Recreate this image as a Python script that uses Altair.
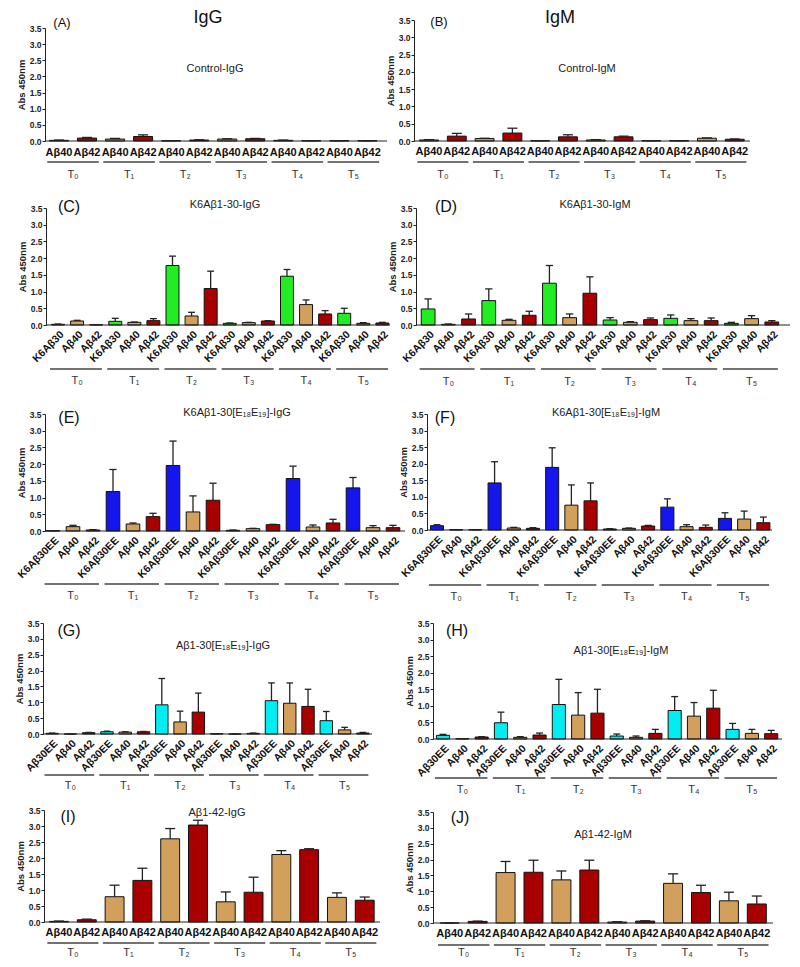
import altair as alt
import pandas as pd

FONT = "Liberation Sans"

times = ["T₀", "T₁", "T₂", "T₃", "T₄", "T₅"]

# ---- series names -------------------------------------------------------
s_ab = ["Aβ40", "Aβ42"]
s_k6 = ["K6Aβ30", "Aβ40", "Aβ42"]
s_k6ee = ["K6Aβ30EE", "Aβ40", "Aβ42"]
s_abee = ["Aβ30EE", "Aβ40", "Aβ42"]

all_series = ["K6Aβ30", "K6Aβ30EE", "Aβ30EE", "Aβ40", "Aβ42"]
all_colors = ["#22EC22", "#1515EE", "#00EEF2", "#D2A05C", "#A80000"]

# ---- values (mean, error) read per time point -----------------------------
a_mean = [0.02, 0.09, 0.06, 0.14, 0.01, 0.03, 0.06, 0.07, 0.02, 0.01, 0.01, 0.01]
a_err = [0.01, 0.02, 0.02, 0.05, 0.00, 0.01, 0.01, 0.01, 0.01, 0.00, 0.00, 0.00]

b_mean = [0.03, 0.14, 0.07, 0.23, 0.01, 0.12, 0.03, 0.12, 0.01, 0.01, 0.08, 0.05]
b_err = [0.01, 0.08, 0.01, 0.14, 0.00, 0.06, 0.01, 0.02, 0.00, 0.00, 0.01, 0.01]

c_mean = [0.02, 0.12, 0.01, 0.11, 0.08, 0.13, 1.78, 0.27, 1.09,
          0.05, 0.07, 0.12, 1.46, 0.61, 0.33, 0.35, 0.05, 0.06]
c_err = [0.01, 0.02, 0.00, 0.09, 0.01, 0.06, 0.28, 0.11, 0.52,
         0.01, 0.01, 0.01, 0.20, 0.14, 0.10, 0.15, 0.02, 0.02]

d_mean = [0.48, 0.02, 0.18, 0.73, 0.14, 0.29, 1.25, 0.22, 0.95,
          0.15, 0.08, 0.16, 0.20, 0.13, 0.13, 0.05, 0.19, 0.09]
d_err = [0.30, 0.01, 0.15, 0.35, 0.03, 0.12, 0.53, 0.11, 0.49,
         0.07, 0.02, 0.05, 0.10, 0.06, 0.08, 0.03, 0.09, 0.04]

e_mean = [0.01, 0.13, 0.03, 1.18, 0.21, 0.43, 1.96, 0.57, 0.92,
          0.02, 0.07, 0.19, 1.57, 0.12, 0.24, 1.29, 0.10, 0.10]
e_err = [0.00, 0.04, 0.01, 0.66, 0.03, 0.10, 0.73, 0.48, 0.51,
         0.01, 0.01, 0.01, 0.37, 0.06, 0.11, 0.31, 0.06, 0.07]

f_mean = [0.13, 0.01, 0.01, 1.42, 0.06, 0.05, 1.89, 0.75, 0.88,
          0.03, 0.05, 0.12, 0.69, 0.10, 0.08, 0.35, 0.33, 0.22]
f_err = [0.03, 0.00, 0.00, 0.64, 0.02, 0.02, 0.59, 0.61, 0.54,
         0.01, 0.01, 0.02, 0.25, 0.06, 0.07, 0.17, 0.24, 0.17]

g_mean = [0.02, 0.00, 0.04, 0.07, 0.06, 0.07, 0.92, 0.38, 0.69,
          0.01, 0.00, 0.02, 1.05, 0.97, 0.87, 0.42, 0.13, 0.03]
g_err = [0.01, 0.00, 0.01, 0.02, 0.01, 0.01, 0.83, 0.34, 0.60,
         0.00, 0.00, 0.01, 0.56, 0.64, 0.54, 0.29, 0.08, 0.02]

h_mean = [0.11, 0.01, 0.06, 0.49, 0.05, 0.12, 1.04, 0.72, 0.78,
          0.09, 0.05, 0.17, 0.86, 0.69, 0.93, 0.29, 0.17, 0.16]
h_err = [0.03, 0.00, 0.01, 0.32, 0.02, 0.06, 0.76, 0.68, 0.72,
         0.06, 0.04, 0.12, 0.42, 0.41, 0.54, 0.18, 0.12, 0.10]

i_mean = [0.02, 0.07, 0.79, 1.30, 2.60, 3.03, 0.63, 0.93, 2.11, 2.26, 0.77, 0.68]
i_err = [0.01, 0.02, 0.36, 0.38, 0.32, 0.15, 0.31, 0.47, 0.12, 0.03, 0.14, 0.10]

j_mean = [0.00, 0.05, 1.59, 1.60, 1.36, 1.67, 0.03, 0.06, 1.25, 0.96, 0.70, 0.60]
j_err = [0.00, 0.01, 0.35, 0.38, 0.28, 0.31, 0.01, 0.01, 0.30, 0.23, 0.27, 0.25]

# ---- layout (page pixel geometry) ---------------------------------------
COL_X = [8, 408]
COL_W = [400, 384]
ROW_Y = [8, 190, 395, 603, 800]
ROW_H = [182, 205, 208, 197, 160]

GEOM = {
    "A": dict(r=0, c=0, x=(45, 387), y=(28, 141), dom=(-0.5, 11.7), lab=153, line=162, tl=175,
              letter=("(A)", 62, 23, 13), sub=("Control-IgG", 215, 69), ytitle="Abs 450nm"),
    "B": dict(r=0, c=1, x=(414, 750), y=(20, 141), dom=(-0.54, 11.55), lab=152, line=162, tl=175,
              letter=("(B)", 439, 22, 13), sub=("Control-IgM", 587, 69), ytitle="Abs 450nm"),
    "C": dict(r=1, c=0, x=(46, 390), y=(208, 325), dom=(-0.63, 17.4), lab=333, line=369, tl=381,
              letter=("(C)", 69, 207, 16), sub=("K6Aβ1-30-IgG", 225, 205), ytitle="Abs  450nm"),
    "D": dict(r=1, c=1, x=(416, 790), y=(208, 325), dom=(-0.6, 17.9), lab=333, line=369, tl=382,
              letter=("(D)", 446, 207, 16), sub=("K6Aβ1-30-IgM", 595, 205), ytitle="Abs  450nm"),
    "E": dict(r=2, c=0, x=(45, 405), y=(414, 531), dom=(-0.4, 17.6), lab=539, line=584, tl=596,
              letter=("(E)", 69, 418, 16), sub=("K6Aβ1-30[E₁₈E₁₉]-IgG", 237, 413), ytitle="Abs  450nm"),
    "F": dict(r=2, c=1, x=(427, 772), y=(414, 530), dom=(-0.52, 17.45), lab=538, line=585, tl=597,
              letter=("(F)", 445, 418, 16), sub=("K6Aβ1-30[E₁₈E₁₉]-IgM", 606, 413), ytitle="Abs  450nm"),
    "G": dict(r=3, c=0, x=(43, 372), y=(623, 734), dom=(-0.5, 17.5), lab=742, line=775, tl=786,
              letter=("(G)", 69, 631, 16), sub=("Aβ1-30[E₁₈E₁₉]-IgG", 223, 646), ytitle="Abs  450nm"),
    "H": dict(r=3, c=1, x=(433, 782), y=(623, 739), dom=(-0.52, 17.56), lab=747, line=778, tl=790,
              letter=("(H)", 457, 631, 16), sub=("Aβ1-30[E₁₈E₁₉]-IgM", 621, 651), ytitle="Abs 450nm"),
    "I": dict(r=4, c=0, x=(44, 380), y=(810, 922), dom=(-0.54, 11.55), lab=933, line=943, tl=953,
              letter=("(I)", 68, 817, 16), sub=("Aβ1-42-IgG", 217, 813), ytitle="Abs  450nm"),
    "J": dict(r=4, c=1, x=(433, 773), y=(812, 923), dom=(-0.6, 11.58), lab=934, line=945, tl=953,
              letter=("(J)", 460, 818, 16), sub=("Aβ1-42-IgM", 603, 835), ytitle="Abs  450nm"),
}

COLOR = alt.Color("series:N", scale=alt.Scale(domain=all_series, range=all_colors), legend=None)


def panel(key, series, means, errs):
    g = GEOM[key]
    cx, cy = COL_X[g["c"]], ROW_Y[g["r"]]
    cw, ch = COL_W[g["c"]], ROW_H[g["r"]]
    xl, xr = g["x"][0] - cx, g["x"][1] - cx
    yt, yb = g["y"][0] - cy, g["y"][1] - cy
    ns = len(series)
    rotated = ns == 3

    rows = []
    for ti, t in enumerate(times):
        for si, s in enumerate(series):
            k = ti * ns + si
            rows.append(dict(pos=k, series=s, label=s, mean=means[k], hi=means[k] + errs[k],
                             zero=0.0, bl=k - 0.34, br=k + 0.34, cl=k - 0.18, cr=k + 0.18,
                             lx=k + (0.22 if rotated else 0.0)))
    df = pd.DataFrame(rows)

    grows = []
    for ti, t in enumerate(times):
        first, last = ti * ns, ti * ns + ns - 1
        grows.append(dict(t=t, g0=first - 0.42, g1=last + (0.3 if rotated else 0.42),
                          gc=(first + last) / 2))
    gdf = pd.DataFrame(grows)

    xs = alt.Scale(domain=list(g["dom"]), range=[xl, xr], nice=False, zero=False)
    ys = alt.Scale(domain=[0, 3.5], range=[yb, yt], nice=False, zero=True)

    yaxis = alt.Axis(values=[0, 0.5, 1, 1.5, 2, 2.5, 3, 3.5], format=".1f", orient="left",
                     offset=-xl, title=g["ytitle"], grid=False,
                     labelFont=FONT, labelFontWeight="bold", labelFontSize=8.5, labelColor="#222",
                     labelPadding=1, tickSize=3, tickColor="#222", tickWidth=1,
                     domainColor="#222", domainWidth=1,
                     titleFont=FONT, titleFontSize=9.5, titleFontWeight="bold", titleColor="#222",
                     titlePadding=3)

    def X(f):
        return alt.X(f, type="quantitative", scale=xs, axis=None)

    def Y(f):
        return alt.Y(f, type="quantitative", scale=ys, axis=yaxis)

    base = alt.Chart(df)
    bars = base.mark_bar(stroke="#111", strokeWidth=1).encode(
        x=X("bl"), x2="br", y=Y("mean"), y2="zero", color=COLOR)
    err = base.mark_rule(color="#222", strokeWidth=1.3).encode(
        x=X("pos"), y=Y("mean"), y2="hi")
    cap = base.mark_rule(color="#222", strokeWidth=1.3).encode(
        x=X("cl"), x2="cr", y=Y("hi"))

    bdf = pd.DataFrame({"x0": [g["dom"][0]], "x1": [g["dom"][1]], "z": [0.0]})
    baseline = alt.Chart(bdf).mark_rule(color="#222", strokeWidth=1).encode(
        x=X("x0"), x2="x1", y=Y("z"))

    if rotated:
        labels = base.mark_text(font=FONT, fontWeight="bold", fontSize=10.5, angle=315,
                                align="right", baseline="middle", color="#111").encode(
            x=X("lx"), y=alt.value(g["lab"] - cy), text="label:N")
    else:
        labels = base.mark_text(font=FONT, fontWeight="bold", fontSize=11, align="center",
                                baseline="middle", color="#111").encode(
            x=X("lx"), y=alt.value(g["lab"] - cy), text="label:N")

    gbase = alt.Chart(gdf)
    glines = gbase.mark_rule(color="#444", strokeWidth=1.3).encode(
        x=X("g0"), x2="g1", y=alt.value(g["line"] - cy))
    tlabels = gbase.mark_text(font=FONT, fontSize=11, color="#333", baseline="middle").encode(
        x=X("gc"), y=alt.value(g["tl"] - cy), text="t:N")

    letter_txt, lx, ly, lfs = g["letter"]
    letter = alt.Chart(pd.DataFrame({"t": [letter_txt]})).mark_text(
        font=FONT, fontSize=lfs, color="#111", baseline="middle").encode(
        text="t:N", x=alt.value(lx - cx), y=alt.value(ly - cy))
    sub_txt, sx, sy = g["sub"]
    sub = alt.Chart(pd.DataFrame({"t": [sub_txt]})).mark_text(
        font=FONT, fontSize=11, color="#222", baseline="middle").encode(
        text="t:N", x=alt.value(sx - cx), y=alt.value(sy - cy))

    layers = [bars, err, cap, baseline, labels, glines, tlabels, letter, sub]
    if key in ("A", "B"):
        head = "IgG" if key == "A" else "IgM"
        hx = 208 if key == "A" else 560
        layers.append(alt.Chart(pd.DataFrame({"t": [head]})).mark_text(
            font=FONT, fontSize=18, color="#111", baseline="middle").encode(
            text="t:N", x=alt.value(hx - cx), y=alt.value(18 - cy)))

    return alt.layer(*layers).properties(width=cw, height=ch)


panels = [
    panel("A", s_ab, a_mean, a_err),
    panel("B", s_ab, b_mean, b_err),
    panel("C", s_k6, c_mean, c_err),
    panel("D", s_k6, d_mean, d_err),
    panel("E", s_k6ee, e_mean, e_err),
    panel("F", s_k6ee, f_mean, f_err),
    panel("G", s_abee, g_mean, g_err),
    panel("H", s_abee, h_mean, h_err),
    panel("I", s_ab, i_mean, i_err),
    panel("J", s_ab, j_mean, j_err),
]

chart = alt.concat(
    *panels, columns=2, spacing=0, bounds="flush", align="each",
).resolve_scale(x="independent", y="independent").properties(
    padding=0, background="white"
).configure_view(strokeWidth=0, strokeOpacity=0, stroke="transparent")

chart.save("out.html", embed_options={"renderer": "svg", "actions": False})
